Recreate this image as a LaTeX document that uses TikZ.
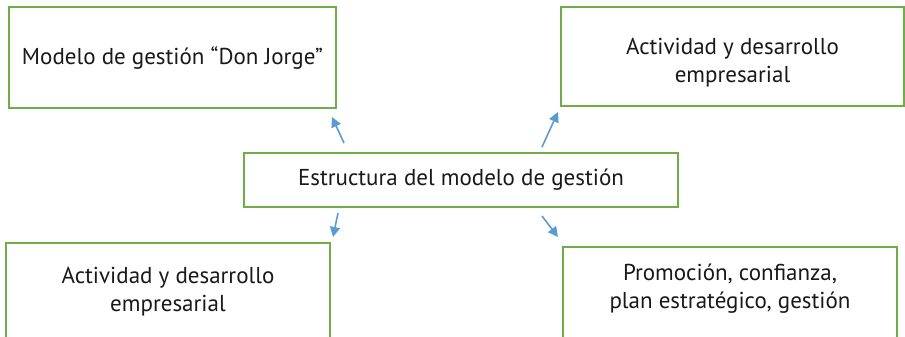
\documentclass[tikz,border=0pt]{standalone}
\usepackage{fontspec}
\setmainfont{PT Sans}
\usetikzlibrary{arrows.meta}
\definecolor{boxgreen}{HTML}{70AD47}
\definecolor{arrblue}{HTML}{5B9BD5}
\begin{document}
\begin{tikzpicture}[x=1pt,y=1pt,
  gbox/.style={draw=boxgreen,line width=2pt,fill=white,align=center,inner sep=0pt,
    font=\fontsize{23}{28}\selectfont,text=black!90},
  btext/.style={align=center,inner sep=0pt,font=\fontsize{23}{28}\selectfont,text=black!90},
  conn/.style={draw=arrblue,line width=1.6pt,-{Triangle[length=10pt,width=10pt]}}]
\useasboundingbox (0,0) rectangle (905,337);
\clip (0,0) rectangle (905,337);
\node[gbox,minimum width=327pt,minimum height=101pt] (a) at (172.5,279.5) {Modelo de gestión “Don Jorge”};
\node[gbox,minimum width=343pt,minimum height=99pt] (b) at (732.5,280.5) {};
\node[btext] (bt) at (732.5,274.5) {Actividad y desarrollo\\empresarial};
\node[gbox,minimum width=434pt,minimum height=54pt] (c) at (461,157) {Estructura del modelo de gestión};
\node[gbox,minimum width=324pt,minimum height=98pt] (d) at (168,45) {Actividad y desarrollo\\empresarial};
\node[gbox,minimum width=334pt,minimum height=93pt] (e) at (730,43.5) {};
\node[btext] (et) at (730,48.5) {Promoción, confianza,\\plan estratégico, gestión};
\coordinate (s1) at (344,194);
\coordinate (t1) at (332,220);
\coordinate (s2) at (542,190);
\coordinate (t2) at (558,225);
\coordinate (s3) at (338,124);
\coordinate (t3) at (333,100);
\coordinate (s4) at (542,121);
\coordinate (t4) at (558,100);
\draw[conn] (s1) -- (t1);
\draw[conn] (s2) -- (t2);
\draw[conn] (s3) -- (t3);
\draw[conn] (s4) -- (t4);
\end{tikzpicture}
\end{document}
